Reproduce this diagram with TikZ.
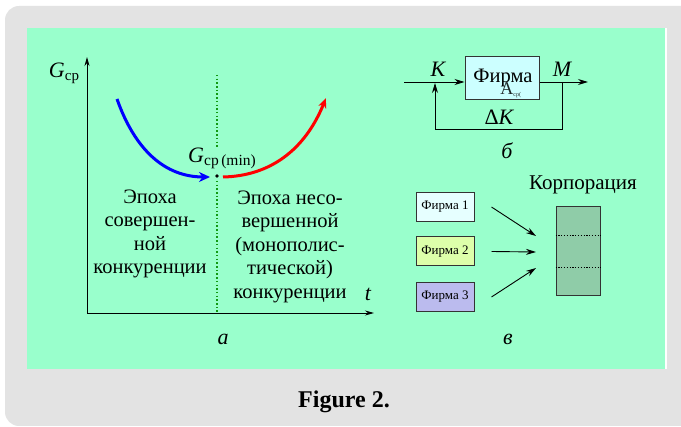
\documentclass[tikz,border=0pt]{standalone}
\usepackage{fontspec}
\setmainfont{Liberation Serif}
\usetikzlibrary{arrows.meta}
\definecolor{panelgreen}{HTML}{99FFCC}
\definecolor{framegray}{HTML}{E3E3E3}
\definecolor{boxcyan}{HTML}{CCFFFF}
\definecolor{firm1}{HTML}{E6FFFF}
\definecolor{firm2}{HTML}{DDFFAA}
\definecolor{firm3}{HTML}{BBBBEE}
\definecolor{corp}{HTML}{8FCCA8}
\definecolor{dotgreen}{HTML}{119911}
\begin{document}
\begin{tikzpicture}[x=1pt,y=-1pt,
  txt/.style={font=\fontsize{20.5}{23.5}\selectfont, inner sep=0pt, align=center},
  lbl/.style={font=\fontsize{22}{24}\selectfont\itshape, inner sep=0pt},
  axis/.style={line width=0.9pt, -{Stealth[length=9pt,width=5pt]}},
  conn/.style={line width=0.9pt, -{Stealth[length=10pt,width=6pt]}},
  firmbox/.style={draw=black!80, line width=1pt, minimum width=58pt, minimum height=29pt, inner sep=0pt, font=\fontsize{13}{14}\selectfont},
]
\useasboundingbox (0,0) rectangle (681,427);
\fill[framegray, rounded corners=14pt] (5,6) rectangle (695,426);
\fill[white] (27,28) rectangle (667,369);
\fill[panelgreen] (27,28) rectangle (665,369);
\node[font=\fontsize{24}{26}\selectfont\bfseries] (cap) at (344,402) {Figure 2.};

% panel a
\coordinate (O) at (87,313);
\coordinate (ytop) at (87,57);
\coordinate (xend) at (374,313);
\draw[axis] (O) -- (ytop);
\draw[axis] (O) -- (xend);
\node[lbl] (G) at (64,73) {G\textup{\fontsize{15}{15}\selectfont\raisebox{-3pt}{ср}}};
\node[lbl] (t) at (368,294) {t};
\coordinate (d1) at (217,75);
\coordinate (d2) at (217,147);
\coordinate (d3) at (217,181);
\coordinate (d4) at (217,313);
\draw[dotgreen, line width=1.2pt, dash pattern=on 1.5pt off 2.2pt] (d1) -- (d2);
\draw[dotgreen, line width=1.2pt, dash pattern=on 1.5pt off 2.2pt] (d3) -- (d4);
\fill (217,176) circle (1.8pt) coordinate (mn);
\node[lbl] (Gmin) at (222,158) {G\textup{\fontsize{15.5}{15}\selectfont\raisebox{-3pt}{ср\,(min)}}};
\coordinate (b0) at (117,99);
\coordinate (b1) at (210,177);
\coordinate (r0) at (223,177);
\coordinate (r1) at (326,98);
\draw[blue, line width=3pt, -{Stealth[length=11pt,width=10pt]}] (b0) .. controls (135,150) and (165,177) .. (b1);
\draw[red, line width=3pt, -{Stealth[length=10pt,width=8pt]}] (r0) .. controls (270,176) and (305,150) .. (r1);
\node[txt] (left) at (150,234) {Эпоха\\совершен-\\ной\\конкуренции};
\node[txt] (right) at (290,246.5) {Эпоха несо-\\вершенной\\(монополис-\\тической)\\конкуренции};
\node[lbl] (a) at (223,339) {a};

% panel b
\node[draw=black!80, line width=1pt, fill=boxcyan, minimum width=74pt, minimum height=43pt, inner sep=0pt] (firm) at (502,78.5) {};
\node[font=\fontsize{20.5}{22}\selectfont, inner sep=0pt] (fn) at (503,78) {Фирма};
\node[font=\fontsize{18}{20}\selectfont, inner sep=0pt, opacity=0.85] (fa) at (511,90) {A\textsubscript{\fontsize{6}{6}\selectfont ср(}};
\coordinate (in) at (404,82);
\coordinate (out) at (588,82);
\coordinate (fb1) at (562,82);
\coordinate (fb2) at (562,129);
\coordinate (fb3) at (435,129);
\coordinate (fb4) at (435,83);
\draw[conn] (in) -- (firm.west|-in);
\draw[conn] (firm.east|-out) -- (out);
\draw[line width=0.9pt] (fb1) -- (fb2) -- (fb3);
\draw[conn] (fb3) -- (fb4);
\node[lbl] (K) at (438,69) {K};
\node[lbl] (M) at (562,69) {M};
\node[lbl] (dK) at (499,117) {\textup{Δ}K};
\node[lbl] (b) at (507,151) {б};

% panel v
\node[firmbox, fill=firm1] (f1) at (445,207) {Фирма 1};
\node[firmbox, fill=firm2] (f2) at (445,251.5) {Фирма 2};
\node[firmbox, fill=firm3] (f3) at (445,297) {Фирма 3};
\node[draw=black!80, line width=1pt, fill=corp, minimum width=44pt, minimum height=89pt, inner sep=0pt] (corp) at (578,251.5) {};
\draw[line width=0.8pt, dash pattern=on 1.2pt off 1.6pt] (corp.west|-0,235) -- (corp.east|-0,235);
\draw[line width=0.8pt, dash pattern=on 1.2pt off 1.6pt] (corp.west|-0,267) -- (corp.east|-0,267);
\node[font=\fontsize{21}{22}\selectfont, inner sep=0pt] (ct) at (583,185) {Корпорация};
\coordinate (t1) at (536,236);
\coordinate (t2) at (536,252);
\coordinate (t3) at (536,268);
\draw[conn] ([xshift=17pt]f1.east) -- (t1);
\draw[conn] ([xshift=17pt]f2.east) -- (t2);
\draw[conn] ([xshift=17pt]f3.east) -- (t3);
\node[lbl] (v) at (508,339) {в};
\end{tikzpicture}
\end{document}
